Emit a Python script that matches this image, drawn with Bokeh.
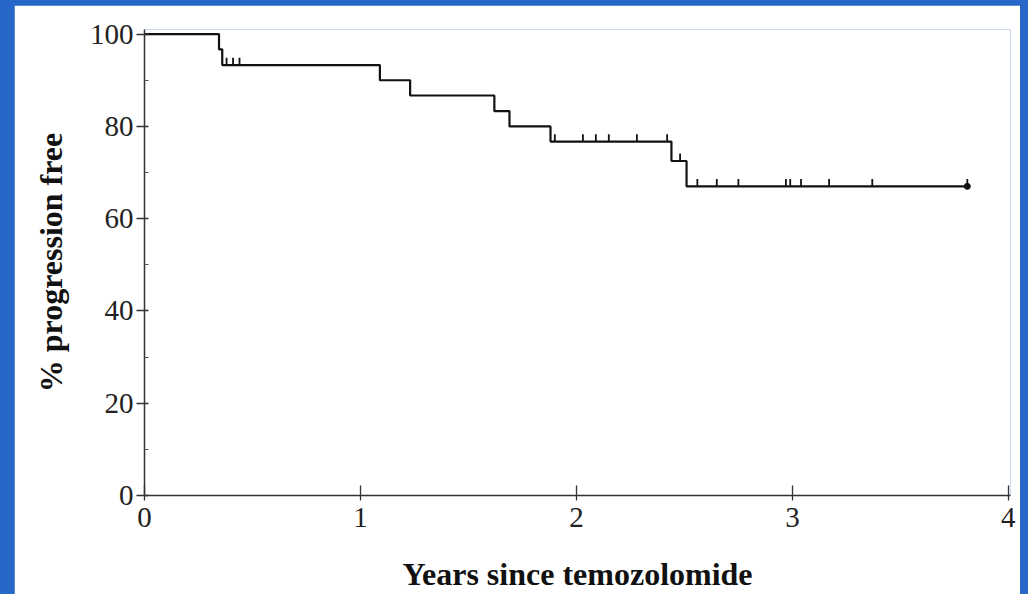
from bokeh.plotting import figure
from bokeh.models import Range1d, FixedTicker, ColumnDataSource
from bokeh.layouts import column
from bokeh.embed import file_html
from bokeh.resources import INLINE

# Kaplan-Meier step data (years, % progression free)
event_times = [0.0, 0.345, 0.36, 1.09, 1.23, 1.62, 1.69, 1.88, 2.44, 2.51, 3.81]
surv_pct = [100.0, 96.7, 93.3, 90.0, 86.7, 83.3, 80.0, 76.7, 72.5, 67.0, 67.0]

# censored observations (time, level)
censor_times = [0.38, 0.41, 0.44, 1.90, 2.03, 2.09, 2.15, 2.28, 2.42, 2.48,
                2.56, 2.65, 2.75, 2.97, 2.99, 3.04, 3.17, 3.37, 3.81]
censor_levels = [93.3, 93.3, 93.3, 76.7, 76.7, 76.7, 76.7, 76.7, 76.7, 72.5,
                 67.0, 67.0, 67.0, 67.0, 67.0, 67.0, 67.0, 67.0, 67.0]

x_ticks = [0, 1, 2, 3, 4]
y_ticks = [0, 20, 40, 60, 80, 100]
y_minor = [10, 30, 50, 70, 90]

FONT = "Liberation Serif"
TICK_MARK_LEN = 1.6

p = figure(width=1006, height=589,
           x_range=Range1d(0, 4.01), y_range=Range1d(0, 101),
           output_backend="svg", toolbar_location=None,
           min_border_left=130, min_border_right=10,
           min_border_top=24, min_border_bottom=94)
p.grid.visible = False
p.outline_line_color = None
p.outline_line_alpha = 0
p.background_fill_color = "white"
p.border_fill_color = "white"

p.step(event_times, surv_pct, mode="after", line_width=2.2, line_color="#111111")

src = ColumnDataSource(dict(
    x=censor_times,
    y0=censor_levels,
    y1=[v + TICK_MARK_LEN for v in censor_levels],
))
p.segment(x0="x", y0="y0", x1="x", y1="y1", source=src, line_width=1.8, line_color="#111111")
p.scatter([censor_times[-1]], [censor_levels[-1]], size=6, color="#111111")

p.xaxis.ticker = FixedTicker(ticks=x_ticks)
p.yaxis.ticker = FixedTicker(ticks=y_ticks, minor_ticks=y_minor)

for ax in (p.xaxis[0], p.yaxis[0]):
    ax.axis_line_color = "#333333"
    ax.axis_line_width = 1.5
    ax.major_tick_line_color = "#333333"
    ax.major_tick_line_width = 1.3
    ax.minor_tick_line_color = "#555555"
    ax.major_label_text_font = FONT
    ax.major_label_text_font_size = "29px"
    ax.major_label_text_color = "#222222"
    ax.axis_label_text_font = FONT
    ax.axis_label_text_font_style = "bold"
    ax.axis_label_text_font_size = "32px"
    ax.axis_label_text_color = "#111111"

p.xaxis.axis_label = "Years since temozolomide"
p.xaxis.major_tick_in = 10
p.xaxis.major_tick_out = 5
p.xaxis.minor_tick_line_color = None
p.xaxis.major_label_standoff = 7
p.xaxis.axis_label_standoff = 26

p.yaxis.axis_label = "% progression free"
p.yaxis.major_tick_in = 4
p.yaxis.major_tick_out = 8
p.yaxis.minor_tick_in = 4
p.yaxis.minor_tick_out = 0
p.yaxis.major_label_standoff = 3
p.yaxis.axis_label_standoff = 18

layout = column(p, styles={"background-color": "#2767c8", "padding-left": "14px",
                           "padding-top": "5px", "padding-right": "8px"})

open("out.html", "w").write(file_html(layout, INLINE))
